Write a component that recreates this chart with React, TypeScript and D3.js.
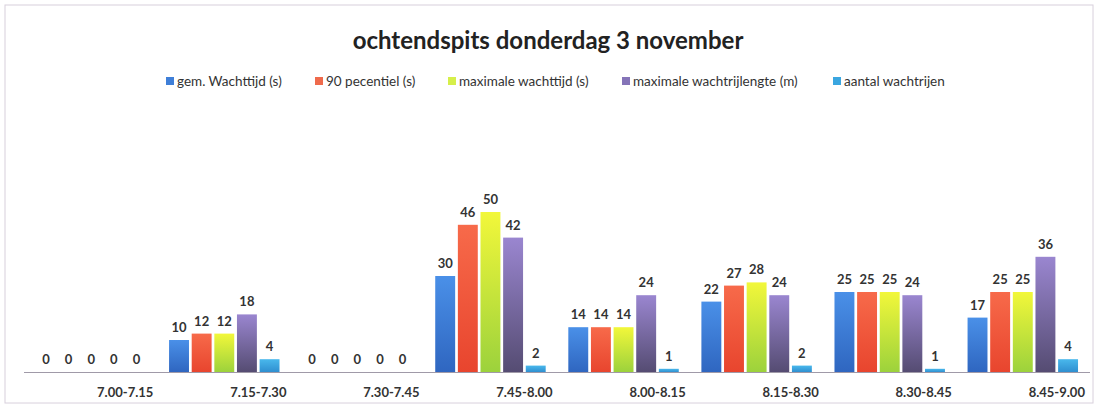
import React from "react";
import * as d3 from "d3";

const categories = ["7.00-7.15", "7.15-7.30", "7.30-7.45", "7.45-8.00", "8.00-8.15", "8.15-8.30", "8.30-8.45", "8.45-9.00"];
const seriesNames = ["gem. Wachttijd (s)", "90 pecentiel (s)", "maximale wachttijd (s)", "maximale wachtrijlengte (m)", "aantal wachtrijen"];
const gemWachttijd = [0, 10, 0, 30, 14, 22, 25, 17];
const percentiel90 = [0, 12, 0, 46, 14, 27, 25, 25];
const maxWachttijd = [0, 12, 0, 50, 14, 28, 25, 25];
const maxLengte = [0, 18, 0, 42, 24, 24, 24, 36];
const aantalRijen = [0, 4, 0, 2, 1, 2, 1, 4];
const seriesValues = [gemWachttijd, percentiel90, maxWachttijd, maxLengte, aantalRijen];
const gradients: [string, string][] = [
  ["#4a90e8", "#2f66c0"],
  ["#f76a4a", "#e8452e"],
  ["#f2f73a", "#9cd23c"],
  ["#9a86d0", "#554c72"],
  ["#49b8ec", "#2f8fd0"],
];
const legendColors = ["#3f7fd8", "#ef6a4c", "#d6ef4a", "#8574b8", "#3aa6e0"];

export default function App() {
  const W = 1095, H = 405;
  const x0 = d3.scaleBand().domain(categories).range([24, 1090]).paddingInner(0.17).paddingOuter(0.09);
  const x1 = d3.scaleBand().domain(seriesNames.map((_, i) => String(i))).range([0, x0.bandwidth()]).paddingInner(0.12);
  const y = d3.scaleLinear().domain([0, 50]).range([372, 212]);
  const font = "Lato, 'Open Sans', sans-serif";
  const legendX = [166, 315, 448, 622, 833];
  return (
    <svg width={W} height={H} style={{ position: "absolute", left: 0, top: 0, background: "#fff" }}>
      <defs>
        {gradients.map((g, i) => (
          <linearGradient key={i} id={`g${i}`} x1="0" y1="0" x2="0" y2="1">
            <stop offset="0%" stopColor={g[0]} />
            <stop offset="100%" stopColor={g[1]} />
          </linearGradient>
        ))}
      </defs>
      <rect x={5} y={5} width={1088} height={398} fill="none" stroke="#d8d0dc" strokeWidth={1} />
      <text x={548} y={49} textAnchor="middle" fontFamily={font} fontWeight="bold" fontSize={24} fill="#222">
        ochtendspits donderdag 3 november
      </text>
      {seriesNames.map((s, i) => (
        <g key={s} transform={`translate(${legendX[i]},86)`}>
          <rect x={0} y={-9} width={8} height={8} fill={legendColors[i]} />
          <text x={11} y={0} fontFamily={font} fontSize={13.5} fill="#333">{s}</text>
        </g>
      ))}
      {categories.map((c, ci) => (
        <g key={c} transform={`translate(${x0(c)},0)`}>
          {seriesValues.map((vals, si) => {
            const bx = x1(String(si))!;
            const v = vals[ci];
            return (
              <g key={si}>
                {v > 0 && (
                  <rect x={bx} y={y(v)} width={x1.bandwidth()} height={y(0) - y(v)} fill={`url(#g${si})`} />
                )}
                <text x={bx + x1.bandwidth() / 2} y={y(v) - 8} textAnchor="middle" fontFamily={font} fontWeight="bold" fontSize={13} fill="#333">
                  {v}
                </text>
              </g>
            );
          })}
          <text x={x0.bandwidth() / 2 + 34} y={397} textAnchor="middle" fontFamily={font} fontWeight="bold" fontSize={13} fill="#333">
            {c}
          </text>
        </g>
      ))}
      <line x1={24} x2={1090} y1={372.5} y2={372.5} stroke="#a09aa8" strokeWidth={1.2} />
    </svg>
  );
}
